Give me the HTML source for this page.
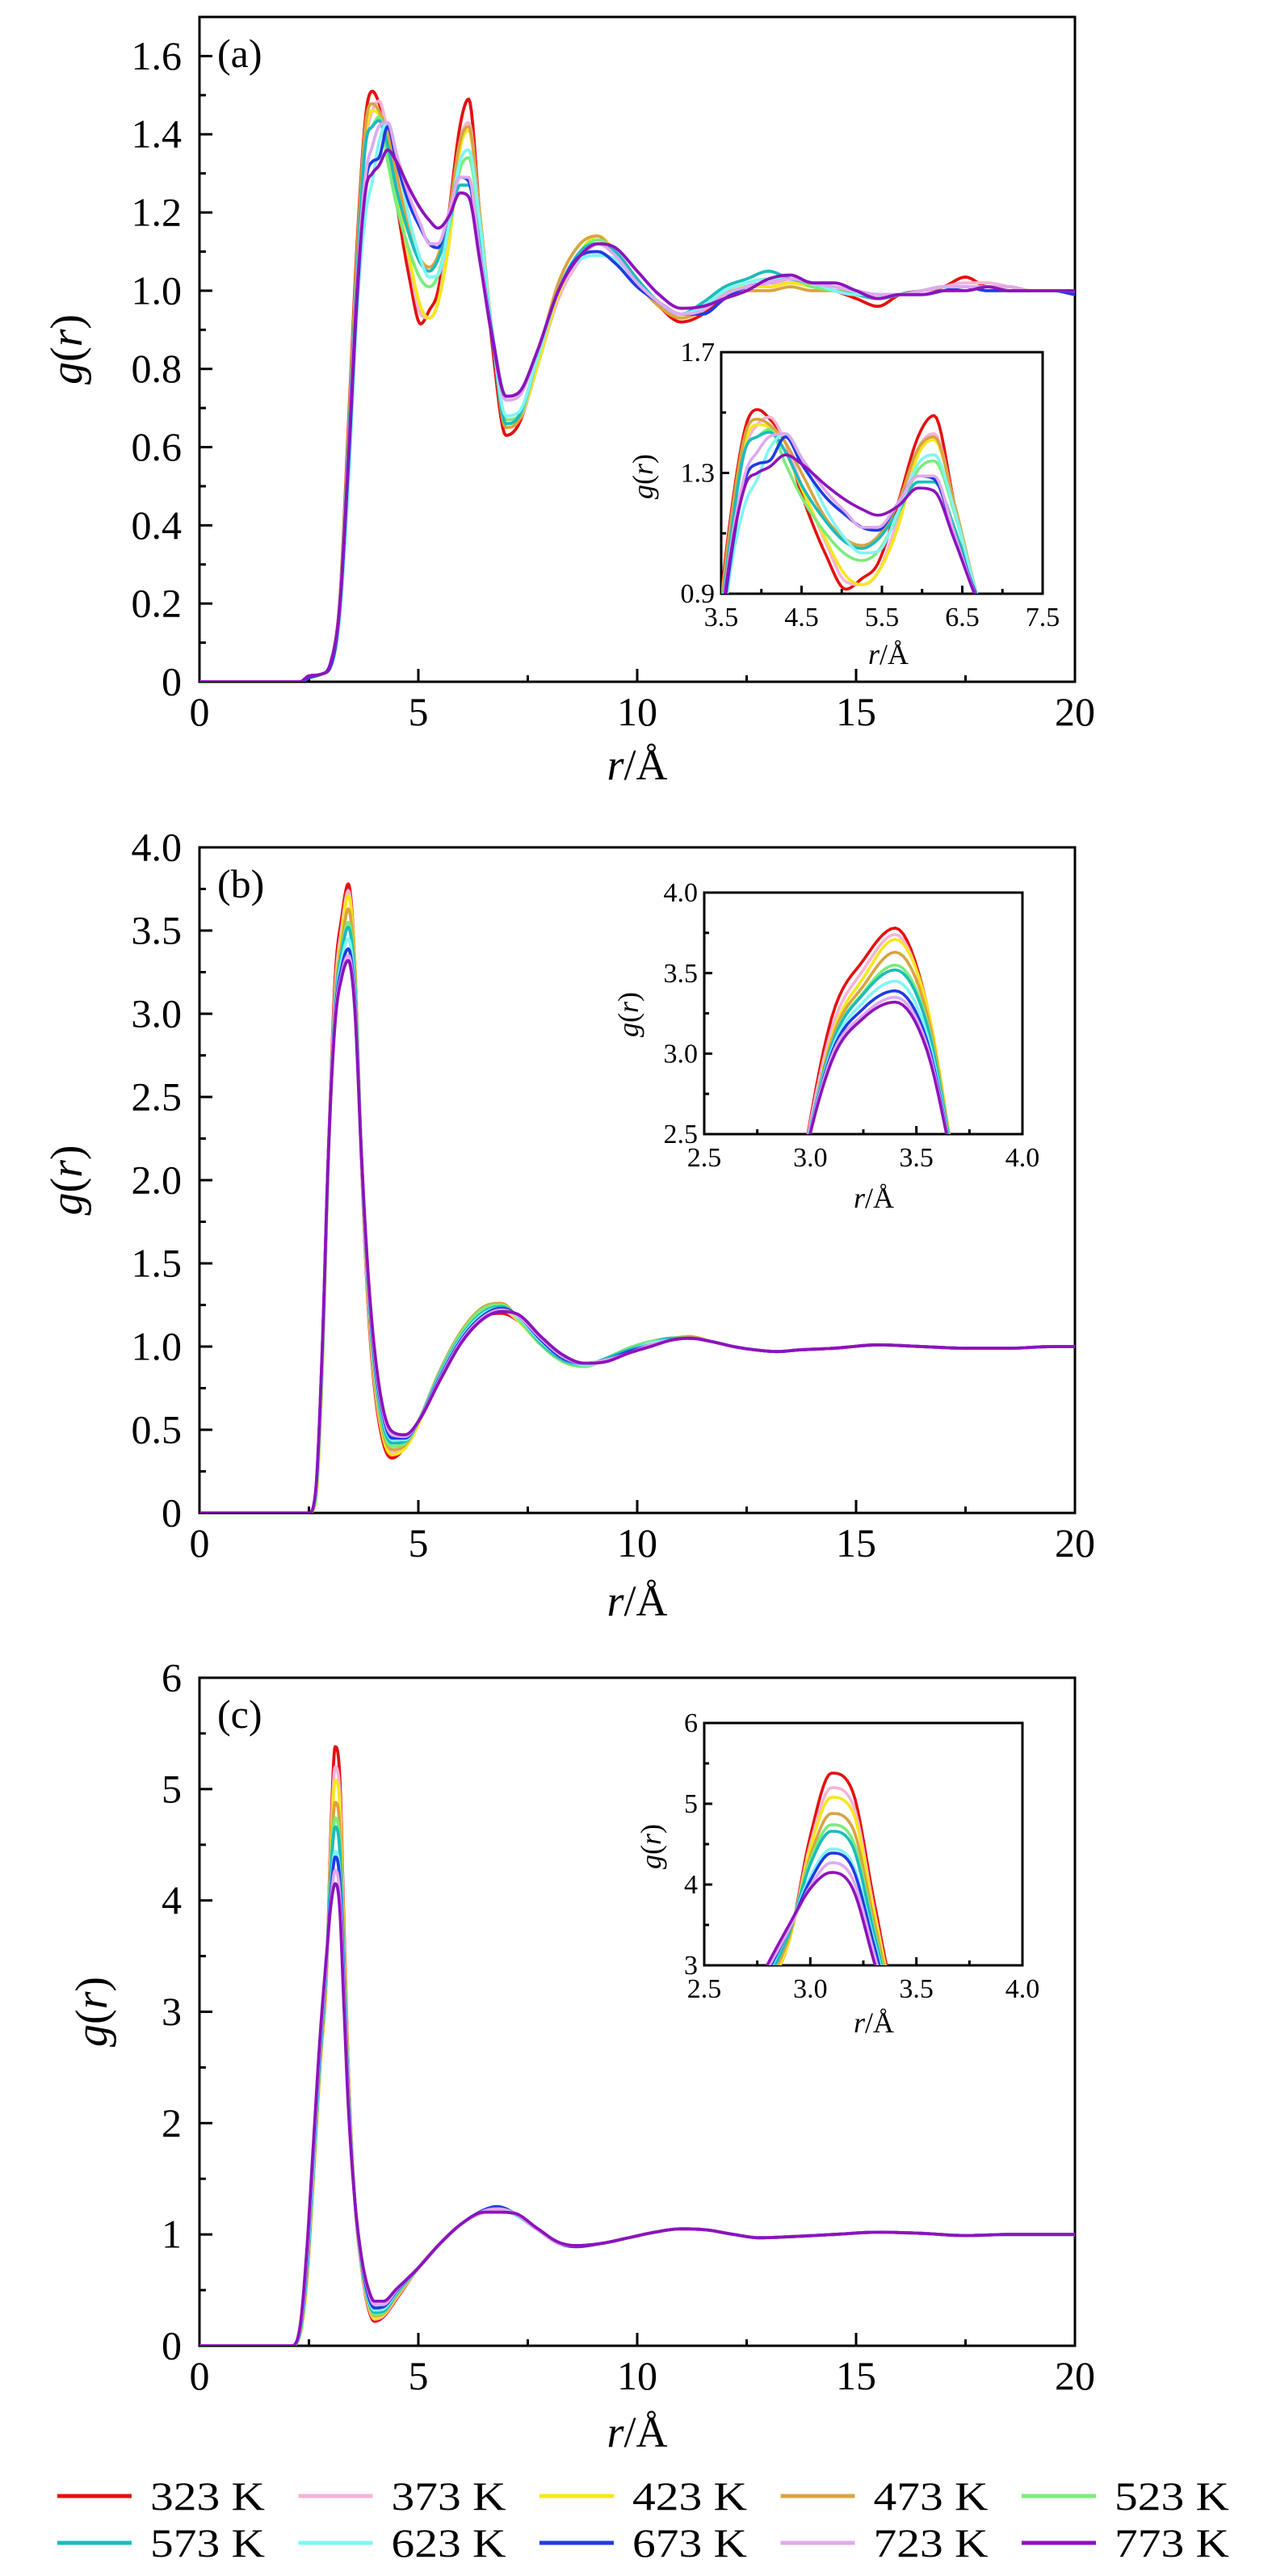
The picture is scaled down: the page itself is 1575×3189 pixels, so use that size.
<!DOCTYPE html>
<html><head><meta charset="utf-8"><title>g(r) panels</title>
<style>
html,body{margin:0;padding:0;background:#fff;}
svg{display:block;}
text{font-family:"Liberation Serif",serif;fill:#000;}
</style></head>
<body>
<svg id="fig" width="1575" height="3189" viewBox="0 0 1575 3189" xmlns="http://www.w3.org/2000/svg"></svg>
<script>
// ---------- data ----------
const temps = ["323 K","373 K","423 K","473 K","523 K","573 K","623 K","673 K","723 K","773 K"];
const colors = ["#e60f0f","#f5b3d8","#f7e71a","#d8a441","#7aec7a","#1bbcbc","#80f5f5","#1f3be4","#e1a9ef","#8e12bc"];

// Panel (a)
const rA = [0,2.3,2.5,2.8,3.0,3.2,3.4,3.6,3.8,3.95,4.1,4.3,4.5,4.8,5.05,5.25,5.45,5.7,5.95,6.15,6.4,6.7,7.0,7.3,7.7,8.2,8.7,9.1,9.5,10.0,10.5,11.0,11.5,12.0,12.5,13.0,13.5,14.0,14.5,15.0,15.5,16.0,16.5,17.0,17.5,18.0,18.5,19.0,19.5,20.0];
const gA323 = [0,0,0.015,0.02,0.05,0.2,0.65,1.12,1.45,1.51,1.48,1.40,1.23,1.03,0.915,0.95,1.0,1.2,1.42,1.49,1.2,0.85,0.63,0.66,0.80,0.98,1.08,1.12,1.09,1.02,0.96,0.92,0.94,0.99,1.01,1.01,1.02,1.01,1.0,0.98,0.96,0.99,1.0,1.01,1.035,1.01,1.01,1.0,1.0,0.995];
const gA373 = [0,0,0.015,0.02,0.05,0.19,0.6,1.05,1.38,1.46,1.485,1.40,1.26,1.07,0.94,0.93,0.97,1.15,1.38,1.43,1.2,0.88,0.66,0.67,0.80,0.98,1.08,1.12,1.09,1.02,0.97,0.93,0.95,0.99,1.01,1.02,1.02,1.01,1.0,0.99,0.98,0.99,1.0,1.01,1.02,1.02,1.01,1.0,1.0,1.0];
const gA423 = [0,0,0.01,0.02,0.04,0.17,0.58,1.05,1.40,1.46,1.45,1.37,1.25,1.08,0.96,0.93,0.97,1.12,1.36,1.41,1.2,0.88,0.65,0.67,0.80,0.99,1.10,1.14,1.10,1.02,0.96,0.93,0.95,0.99,1.01,1.01,1.02,1.01,1.0,0.99,0.98,0.99,1.0,1.01,1.01,1.01,1.01,1.0,1.0,1.0];
const gA473 = [0,0,0.015,0.02,0.05,0.2,0.63,1.1,1.43,1.478,1.46,1.40,1.30,1.15,1.08,1.06,1.09,1.2,1.38,1.42,1.2,0.88,0.65,0.67,0.82,1.02,1.12,1.14,1.09,1.02,0.96,0.93,0.95,0.99,1.0,1.0,1.01,1.0,1.0,0.99,0.98,0.99,1.0,1.01,1.01,1.01,1.01,1.0,1.0,0.99];
const gA523 = [0,0,0.015,0.02,0.05,0.19,0.6,1.05,1.38,1.42,1.445,1.33,1.22,1.1,1.03,1.01,1.04,1.16,1.31,1.34,1.17,0.88,0.67,0.68,0.82,1.0,1.10,1.13,1.10,1.02,0.97,0.94,0.96,1.0,1.02,1.03,1.03,1.01,1.0,0.99,0.98,0.99,1.0,1.01,1.01,1.01,1.0,1.0,1.0,1.0];
const gA573 = [0,0,0.015,0.02,0.05,0.19,0.6,1.05,1.38,1.42,1.435,1.37,1.26,1.14,1.07,1.05,1.08,1.17,1.27,1.27,1.12,0.87,0.66,0.68,0.82,1.0,1.10,1.12,1.10,1.03,0.97,0.94,0.97,1.01,1.03,1.05,1.03,1.02,1.0,0.99,0.98,0.99,1.0,1.01,1.01,1.01,1.0,1.0,1.0,1.0];
const gA623 = [0,0,0.01,0.02,0.04,0.16,0.5,0.95,1.2,1.28,1.38,1.43,1.35,1.18,1.08,1.035,1.04,1.17,1.33,1.36,1.18,0.88,0.68,0.69,0.82,1.0,1.08,1.09,1.08,1.02,0.97,0.94,0.96,1.0,1.02,1.03,1.03,1.02,1.0,0.99,0.99,0.99,1.0,1.01,1.01,1.01,1.0,1.0,1.0,1.0];
const gA673 = [0,0,0.01,0.02,0.04,0.18,0.55,0.98,1.28,1.33,1.34,1.42,1.33,1.22,1.16,1.12,1.11,1.2,1.29,1.28,1.1,0.88,0.73,0.74,0.84,1.0,1.09,1.10,1.07,1.01,0.97,0.94,0.94,0.98,1.01,1.02,1.03,1.02,1.01,1.0,0.99,0.99,0.99,1.0,1.01,1.0,1.0,1.0,1.0,0.99];
const gA723 = [0,0,0.015,0.02,0.05,0.19,0.58,1.02,1.3,1.37,1.42,1.43,1.35,1.24,1.17,1.12,1.12,1.2,1.29,1.29,1.1,0.87,0.72,0.73,0.84,1.0,1.09,1.12,1.09,1.02,0.97,0.94,0.95,0.99,1.01,1.02,1.03,1.02,1.01,1.0,0.99,0.99,1.0,1.01,1.01,1.01,1.01,1.0,1.0,1.0];
const gA773 = [0,0,0.015,0.02,0.05,0.19,0.57,1.0,1.26,1.3,1.32,1.36,1.33,1.26,1.21,1.18,1.16,1.19,1.25,1.24,1.08,0.87,0.73,0.74,0.84,1.0,1.09,1.12,1.11,1.05,0.99,0.955,0.96,0.98,1.0,1.03,1.04,1.02,1.02,1.0,0.98,0.99,0.99,1.0,1.0,1.01,1.0,1.0,1.0,1.0];

// Panel (b)
const rB = [0,2.5,2.65,2.8,2.95,3.1,3.25,3.4,3.55,3.7,3.85,4.0,4.2,4.4,4.7,5.0,5.5,6.0,6.5,6.9,7.3,7.8,8.3,8.8,9.3,9.8,10.3,10.8,11.2,11.7,12.2,12.7,13.2,13.7,14.5,15.5,16.5,17.5,18.5,19.5,20];
const gB323 = [0,0,0.08,0.85,2.2,3.22,3.58,3.78,3.3,2.1,1.25,0.75,0.42,0.33,0.40,0.55,0.83,1.05,1.18,1.20,1.15,1.02,0.92,0.89,0.93,0.99,1.03,1.05,1.05,1.03,1.0,0.98,0.97,0.98,0.99,1.01,1.0,0.99,0.99,1.0,1.0];
const gB373 = [0,0,0.08,0.85,2.2,3.15,3.52,3.74,3.28,2.1,1.28,0.78,0.45,0.36,0.41,0.55,0.84,1.07,1.21,1.22,1.15,1.02,0.92,0.89,0.93,0.99,1.03,1.05,1.05,1.03,1.0,0.98,0.97,0.98,0.99,1.01,1.0,0.99,0.99,1.0,1.0];
const gB423 = [0,0,0.06,0.8,2.15,3.1,3.47,3.71,3.3,2.15,1.3,0.8,0.45,0.35,0.39,0.53,0.85,1.09,1.23,1.24,1.15,1.01,0.91,0.88,0.93,0.99,1.03,1.05,1.06,1.03,1.0,0.98,0.97,0.98,0.99,1.01,1.0,0.99,0.99,1.0,1.0];
const gB473 = [0,0,0.08,0.85,2.15,3.08,3.42,3.63,3.25,2.15,1.32,0.82,0.48,0.38,0.41,0.55,0.86,1.1,1.24,1.26,1.16,1.01,0.91,0.88,0.93,0.99,1.03,1.05,1.06,1.03,1.0,0.98,0.97,0.98,0.99,1.01,1.0,0.99,0.99,1.0,1.0];
const gB523 = [0,0,0.08,0.85,2.15,3.05,3.38,3.55,3.2,2.15,1.35,0.85,0.5,0.40,0.42,0.55,0.85,1.09,1.23,1.25,1.16,1.01,0.91,0.88,0.93,0.99,1.03,1.05,1.05,1.03,1.0,0.98,0.97,0.98,0.99,1.01,1.0,0.99,0.99,1.0,1.0];
const gB573 = [0,0,0.1,0.9,2.2,3.05,3.37,3.52,3.18,2.15,1.37,0.88,0.53,0.42,0.43,0.55,0.84,1.07,1.21,1.24,1.17,1.02,0.92,0.89,0.93,0.98,1.02,1.05,1.05,1.03,1.0,0.98,0.97,0.98,0.99,1.01,1.0,0.99,0.99,1.0,1.0];
const gB623 = [0,0,0.1,0.9,2.2,3.02,3.32,3.45,3.12,2.15,1.38,0.9,0.56,0.44,0.44,0.55,0.83,1.06,1.2,1.23,1.17,1.03,0.93,0.89,0.92,0.97,1.02,1.04,1.05,1.03,1.0,0.98,0.97,0.98,0.99,1.01,1.0,0.99,0.99,1.0,1.0];
const gB673 = [0,0,0.12,0.95,2.2,3.0,3.28,3.39,3.08,2.15,1.4,0.92,0.58,0.45,0.45,0.55,0.82,1.05,1.19,1.23,1.18,1.04,0.93,0.9,0.92,0.97,1.01,1.04,1.05,1.03,1.0,0.98,0.97,0.98,0.99,1.01,1.0,0.99,0.99,1.0,1.0];
const gB723 = [0,0,0.12,0.95,2.2,2.98,3.24,3.35,3.05,2.15,1.42,0.95,0.6,0.47,0.46,0.55,0.81,1.04,1.18,1.22,1.18,1.05,0.94,0.9,0.92,0.96,1.01,1.04,1.05,1.03,1.0,0.98,0.97,0.98,0.99,1.01,1.0,0.99,0.99,1.0,1.0];
const gB773 = [0,0,0.12,0.95,2.2,2.95,3.22,3.32,3.02,2.15,1.45,0.98,0.62,0.49,0.47,0.55,0.8,1.03,1.17,1.21,1.19,1.06,0.95,0.9,0.91,0.96,1.0,1.04,1.05,1.03,1.0,0.98,0.97,0.98,0.99,1.01,1.0,0.99,0.99,1.0,1.0];

// Panel (c)
const rC = [0,2.1,2.3,2.45,2.6,2.75,2.9,3.0,3.1,3.2,3.3,3.4,3.55,3.7,3.85,4.0,4.2,4.5,5.0,5.5,6.0,6.5,6.8,7.2,7.7,8.2,8.6,9.2,9.8,10.4,11.0,11.6,12.2,12.8,13.5,14.5,15.5,16.5,17.5,18.5,19.5,20];
const gC323 = [0,0,0.12,0.6,1.5,2.5,3.3,4.6,5.38,5.15,3.8,2.5,1.3,0.7,0.35,0.22,0.26,0.42,0.7,0.92,1.1,1.2,1.22,1.18,1.05,0.93,0.9,0.92,0.97,1.02,1.05,1.04,1.0,0.97,0.98,1.0,1.02,1.01,0.99,1.0,1.0,1.0];
const gC373 = [0,0,0.12,0.6,1.5,2.5,3.3,4.5,5.2,5.0,3.7,2.45,1.3,0.7,0.37,0.24,0.27,0.43,0.7,0.92,1.1,1.2,1.22,1.18,1.05,0.93,0.9,0.92,0.97,1.02,1.05,1.04,1.0,0.97,0.98,1.0,1.02,1.01,0.99,1.0,1.0,1.0];
const gC423 = [0,0,0.1,0.55,1.45,2.45,3.3,4.45,5.08,4.9,3.65,2.45,1.3,0.72,0.38,0.25,0.28,0.44,0.7,0.92,1.1,1.21,1.23,1.18,1.05,0.92,0.9,0.92,0.97,1.02,1.05,1.04,1.0,0.97,0.98,1.0,1.02,1.01,0.99,1.0,1.0,1.0];
const gC473 = [0,0,0.12,0.6,1.5,2.5,3.35,4.35,4.88,4.7,3.55,2.4,1.3,0.73,0.4,0.27,0.29,0.45,0.7,0.92,1.1,1.21,1.23,1.18,1.05,0.92,0.9,0.92,0.97,1.02,1.05,1.04,1.0,0.97,0.98,1.0,1.02,1.01,0.99,1.0,1.0,1.0];
const gC523 = [0,0,0.12,0.65,1.55,2.55,3.4,4.3,4.74,4.55,3.45,2.35,1.3,0.74,0.41,0.28,0.3,0.46,0.7,0.92,1.1,1.21,1.23,1.18,1.05,0.92,0.9,0.92,0.97,1.02,1.05,1.04,1.0,0.97,0.98,1.0,1.02,1.01,0.99,1.0,1.0,1.0];
const gC573 = [0,0,0.12,0.65,1.55,2.55,3.4,4.25,4.66,4.47,3.4,2.3,1.3,0.75,0.42,0.3,0.31,0.47,0.7,0.92,1.1,1.21,1.24,1.18,1.05,0.92,0.9,0.92,0.97,1.02,1.05,1.04,1.0,0.97,0.98,1.0,1.02,1.01,0.99,1.0,1.0,1.0];
const gC623 = [0,0,0.14,0.7,1.6,2.6,3.45,4.1,4.44,4.25,3.3,2.3,1.3,0.76,0.44,0.32,0.33,0.48,0.7,0.92,1.1,1.21,1.24,1.18,1.05,0.92,0.9,0.92,0.97,1.02,1.05,1.04,1.0,0.97,0.98,1.0,1.02,1.01,0.99,1.0,1.0,1.0];
const gC673 = [0,0,0.15,0.75,1.7,2.65,3.45,4.05,4.39,4.2,3.25,2.25,1.3,0.77,0.46,0.34,0.35,0.49,0.7,0.92,1.1,1.22,1.25,1.19,1.05,0.92,0.89,0.92,0.97,1.02,1.05,1.04,1.0,0.97,0.98,1.0,1.02,1.01,0.99,1.0,1.0,1.0];
const gC723 = [0,0,0.16,0.8,1.75,2.7,3.45,3.98,4.27,4.07,3.15,2.2,1.3,0.78,0.5,0.37,0.37,0.5,0.7,0.92,1.1,1.21,1.23,1.19,1.05,0.92,0.9,0.92,0.97,1.02,1.05,1.04,1.0,0.97,0.98,1.0,1.02,1.01,0.99,1.0,1.0,1.0];
const gC773 = [0,0,0.18,0.85,1.8,2.75,3.5,3.95,4.15,3.95,3.05,2.15,1.3,0.8,0.52,0.40,0.4,0.51,0.7,0.92,1.1,1.2,1.2,1.19,1.06,0.93,0.9,0.92,0.97,1.02,1.05,1.04,1.0,0.97,0.98,1.0,1.02,1.01,0.99,1.0,1.0,1.0];

const mainYTicksA = ["0","0.2","0.4","0.6","0.8","1.0","1.2","1.4","1.6"];
const mainYTicksB = ["0","0.5","1.0","1.5","2.0","2.5","3.0","3.5","4.0"];
const mainYTicksC = ["0","1","2","3","4","5","6"];
const mainXTicks = ["0","5","10","15","20"];
const insetXTicksA = ["3.5","4.5","5.5","6.5","7.5"];
const insetYTicksA = ["0.9","1.3","1.7"];
const insetXTicksBC = ["2.5","3.0","3.5","4.0"];
const insetYTicksB = ["2.5","3.0","3.5","4.0"];
const insetYTicksC = ["3","4","5","6"];

// ---------- drawing ----------
const NS = "http://www.w3.org/2000/svg";
const svg = document.getElementById("fig");
function mk(tag, attrs, parent){
  const e = document.createElementNS(NS, tag);
  for (const k in attrs) e.setAttribute(k, attrs[k]);
  (parent||svg).appendChild(e);
  return e;
}
function txt(s, x, y, size, anchor, parent, extra){
  const t = mk("text", Object.assign({x:x, y:y, "font-size":size, "text-anchor":anchor||"start"}, extra||{}), parent);
  t.textContent = s;
  return t;
}
function sampleCurve(xs, ys, n){
  const m = xs.length, d = [], t = [];
  for (let i=0;i<m-1;i++) d.push((ys[i+1]-ys[i])/(xs[i+1]-xs[i]));
  for (let i=0;i<m;i++){
    if (i===0) t.push(d[0]); else if (i===m-1) t.push(d[m-2]);
    else t.push(d[i-1]*d[i] <= 0 ? 0 : (d[i-1]+d[i])/2);
  }
  for (let i=0;i<m-1;i++){
    if (d[i]===0){ t[i]=0; t[i+1]=0; continue; }
    const a=t[i]/d[i], b=t[i+1]/d[i], s=a*a+b*b;
    if (s>9){ const k=3/Math.sqrt(s); t[i]=k*a*d[i]; t[i+1]=k*b*d[i]; }
  }
  const out=[];
  for (let i=0;i<m-1;i++){
    const h=xs[i+1]-xs[i];
    for (let j=0;j<n;j++){
      const u=j/n, h00=2*u*u*u-3*u*u+1, h10=u*u*u-2*u*u+u, h01=-2*u*u*u+3*u*u, h11=u*u*u-u*u;
      out.push([xs[i]+u*h, h00*ys[i]+h10*h*t[i]+h01*ys[i+1]+h11*h*t[i+1]]);
    }
  }
  out.push([xs[m-1], ys[m-1]]);
  return out;
}
function scale(d0,d1,p0,p1){ return v => p0+(v-d0)*(p1-p0)/(d1-d0); }

function drawAxes(g, box, xmin, xmax, ymin, ymax, xMajor, xMinorStep, yMajor, yMinorStep, xLabels, yLabels, fs, majL, minL, lw, namePrefix, xLabOff, yLabOff){
  const sx = scale(xmin,xmax,box.x0,box.x1), sy = scale(ymin,ymax,box.y1,box.y0);
  const frame = mk("rect",{x:box.x0,y:box.y0,width:box.x1-box.x0,height:box.y1-box.y0,fill:"none",stroke:"#000","stroke-width":lw},g);
  
  
  for (let v=xmin; v<=xmax+1e-9; v+=xMinorStep){
    const major = Math.abs((v-xmin)/xMajor - Math.round((v-xmin)/xMajor))<1e-6;
    const L = major?majL:minL;
    const tk = mk("line",{x1:sx(v),x2:sx(v),y1:box.y1,y2:box.y1-L,stroke:"#000","stroke-width":lw},g);
    
    
  }
  for (let v=ymin; v<=ymax+1e-9; v+=yMinorStep){
    const major = Math.abs((v-ymin)/yMajor - Math.round((v-ymin)/yMajor))<1e-6;
    const L = major?majL:minL;
    const tk = mk("line",{x1:box.x0,x2:box.x0+L,y1:sy(v),y2:sy(v),stroke:"#000","stroke-width":lw},g);
    
    
  }
  xLabels.forEach((s,i)=>{
    const t = txt(s, sx(xmin+i*xMajor), box.y1+xLabOff, fs, "middle", g);
    
    
  });
  yLabels.forEach((s,i)=>{
    const t = txt(s, box.x0-yLabOff, sy(ymin+i*yMajor)+fs*0.33, fs, "end", g);
    
    
  });
  return {sx, sy};
}
let clipId=0;
function drawSeries(g, box, sx, sy, rs, series, lw, namePrefix){
  clipId++;
  const cp = mk("clipPath",{id:"clip"+clipId},g);
  mk("rect",{x:box.x0,y:box.y0,width:box.x1-box.x0,height:box.y1-box.y0},cp);
  const sg = mk("g",{"clip-path":"url(#clip"+clipId+")"},g);
  
  
  series.forEach((ys,k)=>{
    const pts = sampleCurve(rs, ys, 8);
    let d = "";
    pts.forEach((p,i)=>{ d += (i?"L":"M")+sx(p[0]).toFixed(2)+","+sy(p[1]).toFixed(2); });
    const path = mk("path",{d:d,fill:"none",stroke:colors[k],"stroke-width":lw,"stroke-linejoin":"round","stroke-linecap":"round"},sg);
    
    
  });
}
function gTitle(g, x, y, size, name){
  const t = mk("text",{x:0,y:0,"font-size":size,"text-anchor":"middle",transform:"translate("+x+","+y+") rotate(-90)"},g);
  const a = mk("tspan",{"font-style":"italic"},t); a.textContent="g";
  const b = mk("tspan",{},t); b.textContent="(";
  const c = mk("tspan",{"font-style":"italic"},t); c.textContent="r";
  const e = mk("tspan",{},t); e.textContent=")";
  
  
}
function rTitle(g, x, y, size, name){
  const t = mk("text",{x:x,y:y,"font-size":size,"text-anchor":"middle"},g);
  const a = mk("tspan",{"font-style":"italic"},t); a.textContent="r";
  const b = mk("tspan",{},t); b.textContent="/Å";
  
  
}

const panels = [
  {id:"a", rs:rA, series:[gA323,gA373,gA423,gA473,gA523,gA573,gA623,gA673,gA723,gA773],
   box:{x0:247,x1:1331,y0:21,y1:844}, ymax:1.7, yMajor:0.2, yMinor:0.1, yLabels:mainYTicksA,
   inset:{box:{x0:893,x1:1291,y0:436,y1:735}, xmin:3.5,xmax:7.5,xMajor:1,xMinor:0.5, ymin:0.9,ymax:1.7,yMajor:0.4,yMinor:0.2, xl:insetXTicksA, yl:insetYTicksA, gx:808, gy:590, rx:1100, ry:822},
   gtx:101, rty:965},
  {id:"b", rs:rB, series:[gB323,gB373,gB423,gB473,gB523,gB573,gB623,gB673,gB723,gB773],
   box:{x0:247,x1:1331,y0:1049,y1:1873}, ymax:4.0, yMajor:0.5, yMinor:0.25, yLabels:mainYTicksB,
   inset:{box:{x0:872,x1:1266,y0:1105,y1:1404}, xmin:2.5,xmax:4.0,xMajor:0.5,xMinor:0.25, ymin:2.5,ymax:4.0,yMajor:0.5,yMinor:0.25, xl:insetXTicksBC, yl:insetYTicksB, gx:790, gy:1256, rx:1082, ry:1495},
   gtx:101, rty:2000},
  {id:"c", rs:rC, series:[gC323,gC373,gC423,gC473,gC523,gC573,gC623,gC673,gC723,gC773],
   box:{x0:247,x1:1331,y0:2077,y1:2904}, ymax:6, yMajor:1, yMinor:0.5, yLabels:mainYTicksC,
   inset:{box:{x0:872,x1:1266,y0:2133,y1:2433}, xmin:2.5,xmax:4.0,xMajor:0.5,xMinor:0.25, ymin:3,ymax:6,yMajor:1,yMinor:0.5, xl:insetXTicksBC, yl:insetYTicksC, gx:818, gy:2286, rx:1082, ry:2516},
   gtx:132, rty:3029}
];

panels.forEach(P=>{
  const g = mk("g",{});
  
  
  const ax = drawAxes(g, P.box, 0, 20, 0, P.ymax, 5, 2.5, P.yMajor, P.yMinor, mainXTicks, P.yLabels, 50, 16, 8, 3, 'main-'+P.id, 54, 22);
  drawSeries(g, P.box, ax.sx, ax.sy, P.rs, P.series, 3.8, 'main-'+P.id);
  const lab = txt("("+P.id+")", 269, P.box.y0+62, 50, "start", g);
  
  
  gTitle(g, P.gtx, (P.box.y0+P.box.y1)/2, 56, 'y-axis-title-'+P.id);
  rTitle(g, 789, P.rty, 54, 'x-axis-title-'+P.id);
  const I = P.inset;
  const ig = mk("g",{},g);
  
  
  mk("rect",{x:I.box.x0,y:I.box.y0,width:I.box.x1-I.box.x0,height:I.box.y1-I.box.y0,fill:"#fff"},ig);
  const iax = drawAxes(ig, I.box, I.xmin, I.xmax, I.ymin, I.ymax, I.xMajor, I.xMinor, I.yMajor, I.yMinor, I.xl, I.yl, 34, 10, 6, 3, 'inset-'+P.id, 40, 8);
  drawSeries(ig, I.box, iax.sx, iax.sy, P.rs, P.series, 3.6, 'inset-'+P.id);
  gTitle(ig, I.gx, I.gy, 36, 'inset-y-axis-title-'+P.id);
  rTitle(ig, I.rx, I.ry, 36, 'inset-x-axis-title-'+P.id);
});

const lg = mk("g",{});


temps.forEach((s,k)=>{
  const col = k%5, row = Math.floor(k/5);
  const x = 71 + col*298.5, y = row===0 ? 3090 : 3148;
  const eg = mk("g",{},lg);
  
  
  mk("line",{x1:x,x2:x+92,y1:y,y2:y,stroke:colors[k],"stroke-width":5},eg);
  txt(s, x+115, y+17, 50, "start", eg, {textLength:142, lengthAdjust:"spacingAndGlyphs"});
});
</script>
</body></html>
